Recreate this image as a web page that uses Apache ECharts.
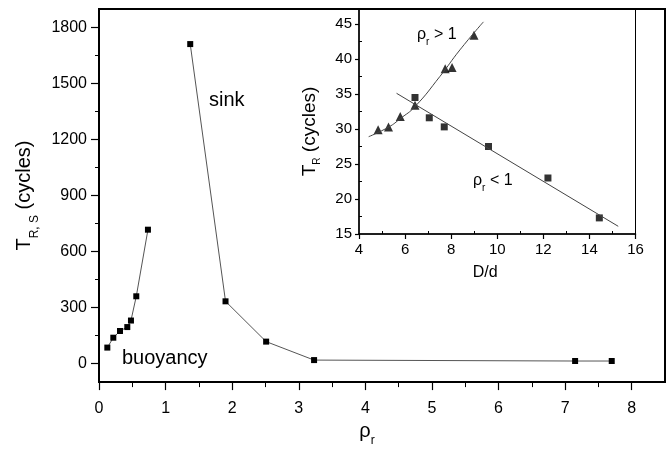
<!DOCTYPE html>
<html>
<head>
<meta charset="utf-8">
<title>T_R,S vs rho_r</title>
<script src="https://cdn.jsdelivr.net/npm/echarts@6/dist/echarts.min.js"></script>
<style>
  html, body { margin: 0; padding: 0; background: #fff; }
  #chart { width: 669px; height: 452px; }
</style>
</head>
<body>
<div id="chart"></div>
<script>
// main plot: rho_r vs T_R,S
var buoyRho = [0.125, 0.215, 0.315, 0.425, 0.48, 0.56, 0.735];
var buoyT   = [85, 138, 174, 195, 230, 360, 717];
var sinkRho = [1.37, 1.90, 2.51, 3.23, 7.15, 7.70];
var sinkT   = [1712, 333, 117, 18, 13, 13];

// inset: D/d vs T_R
var gtD = [4.83, 5.28, 5.79, 6.43, 7.74, 8.04, 8.99];   // rho_r > 1 (triangles)
var gtT = [29.9, 30.3, 31.8, 33.4, 38.6, 38.8, 43.4];
var ltD = [6.43, 7.05, 7.70, 9.62, 12.2, 14.43];        // rho_r < 1 (squares)
var ltT = [34.5, 31.6, 30.3, 27.5, 23.0, 17.3];
// fitted curves
var fitGtD = [4.42, 5.3, 5.8, 6.43, 7.51, 8.38, 9.4];
var fitGtT = [28.9, 30.3, 31.5, 33.2, 37.5, 41.3, 45.3];
var fitLtD = [5.63, 15.25];
var fitLtT = [35.1, 16.1];

// tick labels
var mainXTicks = [0, 1, 2, 3, 4, 5, 6, 7, 8];
var mainXMinor = [0.5, 1.5, 2.5, 3.5, 4.5, 5.5, 6.5, 7.5];
var mainYTicks = [0, 300, 600, 900, 1200, 1500, 1800];
var mainYMinor = [150, 450, 750, 1050, 1350, 1650];
var insXTicks = [4, 6, 8, 10, 12, 14, 16];
var insXMinor = [5, 7, 9, 11, 13, 15];
var insYTicks = [15, 20, 25, 30, 35, 40, 45];
var insYMinor = [17.5, 22.5, 27.5, 32.5, 37.5, 42.5];

var FONT = '"Liberation Sans", Arial, sans-serif';

function pairs(xs, ys) {
  var out = [];
  for (var i = 0; i < xs.length; i++) out.push([xs[i], ys[i]]);
  return out;
}

function majorAxis(grid, min, max, pos, ticks, tlen, lineW, fs, margin) {
  return {
    type: 'value', gridIndex: grid, min: min, max: max, position: pos,
    axisLine: { show: true, onZero: false, lineStyle: { color: '#000', width: lineW } },
    axisTick: { show: true, customValues: ticks, length: tlen, lineStyle: { color: '#000', width: 1.2 } },
    axisLabel: { show: true, customValues: ticks, color: '#000', fontSize: fs, fontFamily: FONT, margin: margin,
      formatter: function (v) { return String(v); } },
    splitLine: { show: false }
  };
}
function minorAxis(grid, min, max, pos, ticks, tlen, inside) {
  return {
    type: 'value', gridIndex: grid, min: min, max: max, position: pos,
    axisLine: { show: false, onZero: false },
    axisTick: { show: true, inside: inside, customValues: ticks, length: tlen, lineStyle: { color: '#000', width: 1 } },
    axisLabel: { show: false },
    splitLine: { show: false }
  };
}

var mx = majorAxis(0, 0, 8.5, 'bottom', mainXTicks, 8, 2, 16, 18);
mx.name = '{a|ρ}{b|r}';
mx.nameLocation = 'middle';
mx.nameGap = 36;
mx.nameTextStyle = { padding: [0, 30, 0, 0], rich: {
  a: { fontSize: 20, fontFamily: FONT, color: '#000' },
  b: { fontSize: 12, fontFamily: FONT, color: '#000', verticalAlign: 'bottom', padding: [0, 0, -6, 0] } } };

var my = majorAxis(0, -100, 1900, 'left', mainYTicks, 8, 2, 16, 12);
my.name = '{a|T}{b|R, S}{a| (cycles)}';
my.nameLocation = 'middle';
my.nameGap = 55;
my.nameTextStyle = { rich: {
  a: { fontSize: 20, fontFamily: FONT, color: '#000' },
  b: { fontSize: 12, fontFamily: FONT, color: '#000', verticalAlign: 'bottom', padding: [0, 0, -6, 0] } } };

var ix = majorAxis(1, 4, 16, 'bottom', insXTicks, 5, 1.5, 15, 8);
ix.name = 'D/d';
ix.nameLocation = 'middle';
ix.nameGap = 31;
ix.nameTextStyle = { fontSize: 16, fontFamily: FONT, color: '#000', padding: [0, 24, 0, 0] };

var iy = majorAxis(1, 15, 47.14, 'left', insYTicks, 4, 1.5, 15, 7);
iy.name = '{a|T}{b|R}{a| (cycles)}';
iy.nameLocation = 'middle';
iy.nameGap = 40;
iy.nameTextStyle = { padding: [0, 20, 0, 0], rich: {
  a: { fontSize: 19, fontFamily: FONT, color: '#000' },
  b: { fontSize: 10, fontFamily: FONT, color: '#000', verticalAlign: 'bottom', padding: [0, 0, -3, 0] } } };

var chart = echarts.init(document.getElementById('chart'));
var option = {
  animation: false,
  backgroundColor: '#fff',
  grid: [
    { left: 99, top: 9, width: 566, height: 376, show: true, borderColor: '#000', borderWidth: 2, backgroundColor: 'transparent' },
    { left: 359, top: 9, width: 276.5, height: 225, show: true, borderColor: '#000', borderWidth: 1, backgroundColor: 'transparent' }
  ],
  xAxis: [
    mx,
    minorAxis(0, 0, 8.5, 'bottom', mainXMinor, 5, false),
    ix,
    minorAxis(1, 4, 16, 'bottom', insXMinor, 3, true)
  ],
  yAxis: [
    my,
    minorAxis(0, -100, 1900, 'left', mainYMinor, 4, false),
    iy,
    minorAxis(1, 15, 47.14, 'left', insYMinor, 3, true)
  ],
  series: [
    { type: 'line', xAxisIndex: 0, yAxisIndex: 0, data: pairs(buoyRho, buoyT),
      symbol: 'rect', symbolSize: 6, itemStyle: { color: '#000' },
      lineStyle: { color: '#555', width: 1 } },
    { type: 'line', xAxisIndex: 0, yAxisIndex: 0, data: pairs(sinkRho, sinkT),
      symbol: 'rect', symbolSize: 6, itemStyle: { color: '#000' },
      lineStyle: { color: '#555', width: 1 } },
    { type: 'line', xAxisIndex: 2, yAxisIndex: 2, data: pairs(fitGtD, fitGtT), smooth: true,
      showSymbol: false, lineStyle: { color: '#444', width: 1 } },
    { type: 'line', xAxisIndex: 2, yAxisIndex: 2, data: pairs(fitLtD, fitLtT),
      showSymbol: false, lineStyle: { color: '#444', width: 1 } },
    { type: 'scatter', xAxisIndex: 2, yAxisIndex: 2, data: pairs(gtD, gtT),
      symbol: 'triangle', symbolSize: 9, itemStyle: { color: '#000' } },
    { type: 'scatter', xAxisIndex: 2, yAxisIndex: 2, data: pairs(ltD, ltT),
      symbol: 'rect', symbolSize: 7, itemStyle: { color: '#000' } }
  ],
  graphic: [
    { type: 'text', left: 209, top: 90, style: { text: 'sink', fontSize: 20, fontFamily: FONT, fill: '#000' } },
    { type: 'text', left: 122, top: 348, style: { text: 'buoyancy', fontSize: 20, fontFamily: FONT, fill: '#000' } },
    { type: 'text', left: 417, top: 27, style: { text: '{a|ρ}{b|r}{a| > 1}', rich: {
        a: { fontSize: 16, fontFamily: FONT, fill: '#000' },
        b: { fontSize: 10, fontFamily: FONT, fill: '#000', verticalAlign: 'bottom', padding: [0, 0, -4, 0] } } } },
    { type: 'text', left: 473, top: 173, style: { text: '{a|ρ}{b|r}{a| < 1}', rich: {
        a: { fontSize: 16, fontFamily: FONT, fill: '#000' },
        b: { fontSize: 10, fontFamily: FONT, fill: '#000', verticalAlign: 'bottom', padding: [0, 0, -4, 0] } } } }
  ]
};
chart.setOption(option);
</script>
</body>
</html>
